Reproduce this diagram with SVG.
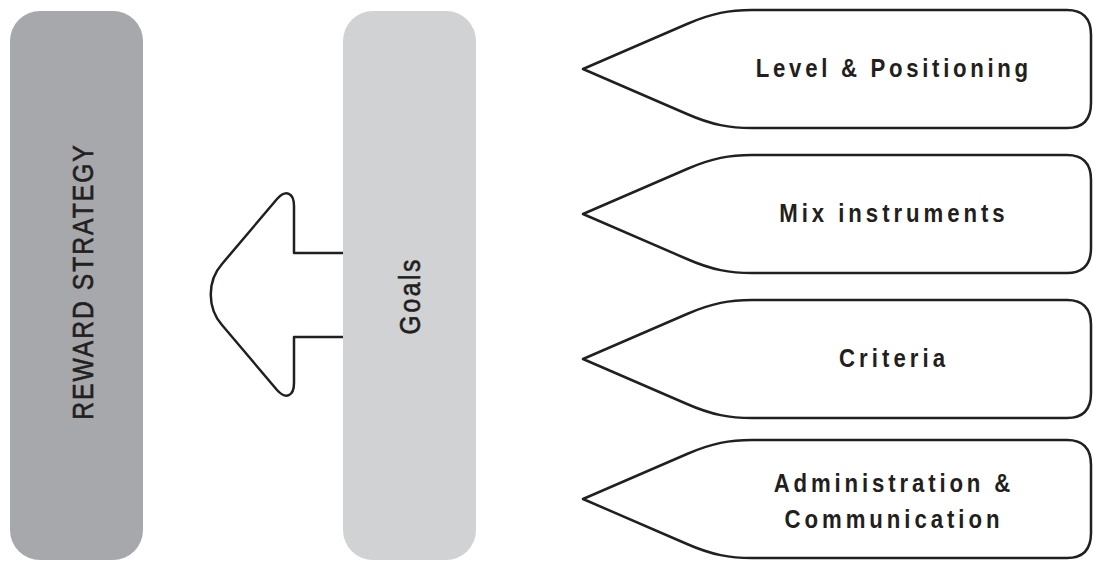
<svg xmlns="http://www.w3.org/2000/svg" xmlns:xlink="http://www.w3.org/1999/xlink" width="1093" height="561" viewBox="0 0 1093 561">
<style>
.bar-dark{fill:#a7a8ab}
.bar-light{fill:#d1d2d4}
.vlabel{font-family:"Liberation Sans",Arial,sans-serif;font-size:29px;fill:#231f20;stroke:#231f20;stroke-width:0.6;text-anchor:middle}
.tag{fill:#ffffff;stroke:#231f20;stroke-width:2.5;stroke-linejoin:round}
.tlabel{font-family:"Liberation Sans",Arial,sans-serif;font-size:25.5px;font-weight:bold;fill:#231f20;text-anchor:middle}
.arrow{fill:#ffffff;stroke:#231f20;stroke-width:2.5;stroke-linejoin:round}
</style>
<defs>
<path id="tagShape" d="M583,59 L687,14 C712,3 730,0 752,0 L1067,0 Q1091,0 1091,25 L1091,93 Q1091,118 1067,118 L752,118 C730,118 712,115 687,104 Z"/>
</defs>
<rect width="1093" height="561" fill="#ffffff"/>
<g id="reward-strategy">
<rect class="bar-dark" x="10" y="11" width="133" height="549" rx="30" ry="30"/>
<text class="vlabel" transform="translate(93,282.5) rotate(-90) scale(0.85,1)" x="0" y="0" textLength="323" lengthAdjust="spacing">REWARD STRATEGY</text>
</g>
<g id="goals">
<rect class="bar-light" x="343" y="11" width="133" height="549" rx="30" ry="30"/>
<text class="vlabel" transform="translate(420,297) rotate(-90) scale(0.85,1)" x="0" y="0" textLength="88" lengthAdjust="spacing">Goals</text>
</g>
<g id="connectors">
<path class="arrow" d="M343,253 L294,253 L294,206 C294,193 286,189 277,199 L222,264 C207,281 207,308 222,325 L277,390 C286,400 294,396 294,383 L294,337 L343,337"/>
</g>
<g id="level-positioning">
<use xlink:href="#tagShape" class="tag" transform="translate(0,10)"/>
<text class="tlabel" transform="translate(892,77) scale(0.87,1)" x="0" y="0" textLength="313" lengthAdjust="spacing">Level &amp; Positioning</text>
</g>
<g id="mix-instruments">
<use xlink:href="#tagShape" class="tag" transform="translate(0,155)"/>
<text class="tlabel" transform="translate(892,222) scale(0.87,1)" x="0" y="0" textLength="259" lengthAdjust="spacing">Mix instruments</text>
</g>
<g id="criteria">
<use xlink:href="#tagShape" class="tag" transform="translate(0,300)"/>
<text class="tlabel" transform="translate(892,367) scale(0.87,1)" x="0" y="0" textLength="122" lengthAdjust="spacing">Criteria</text>
</g>
<g id="administration-communication">
<use xlink:href="#tagShape" class="tag" transform="translate(0,440)"/>
<text class="tlabel" transform="translate(892,492) scale(0.87,1)" x="0" y="0" textLength="272" lengthAdjust="spacing">Administration &amp;</text>
<text class="tlabel" transform="translate(892,528) scale(0.87,1)" x="0" y="0" textLength="247" lengthAdjust="spacing">Communication</text>
</g>
</svg>
